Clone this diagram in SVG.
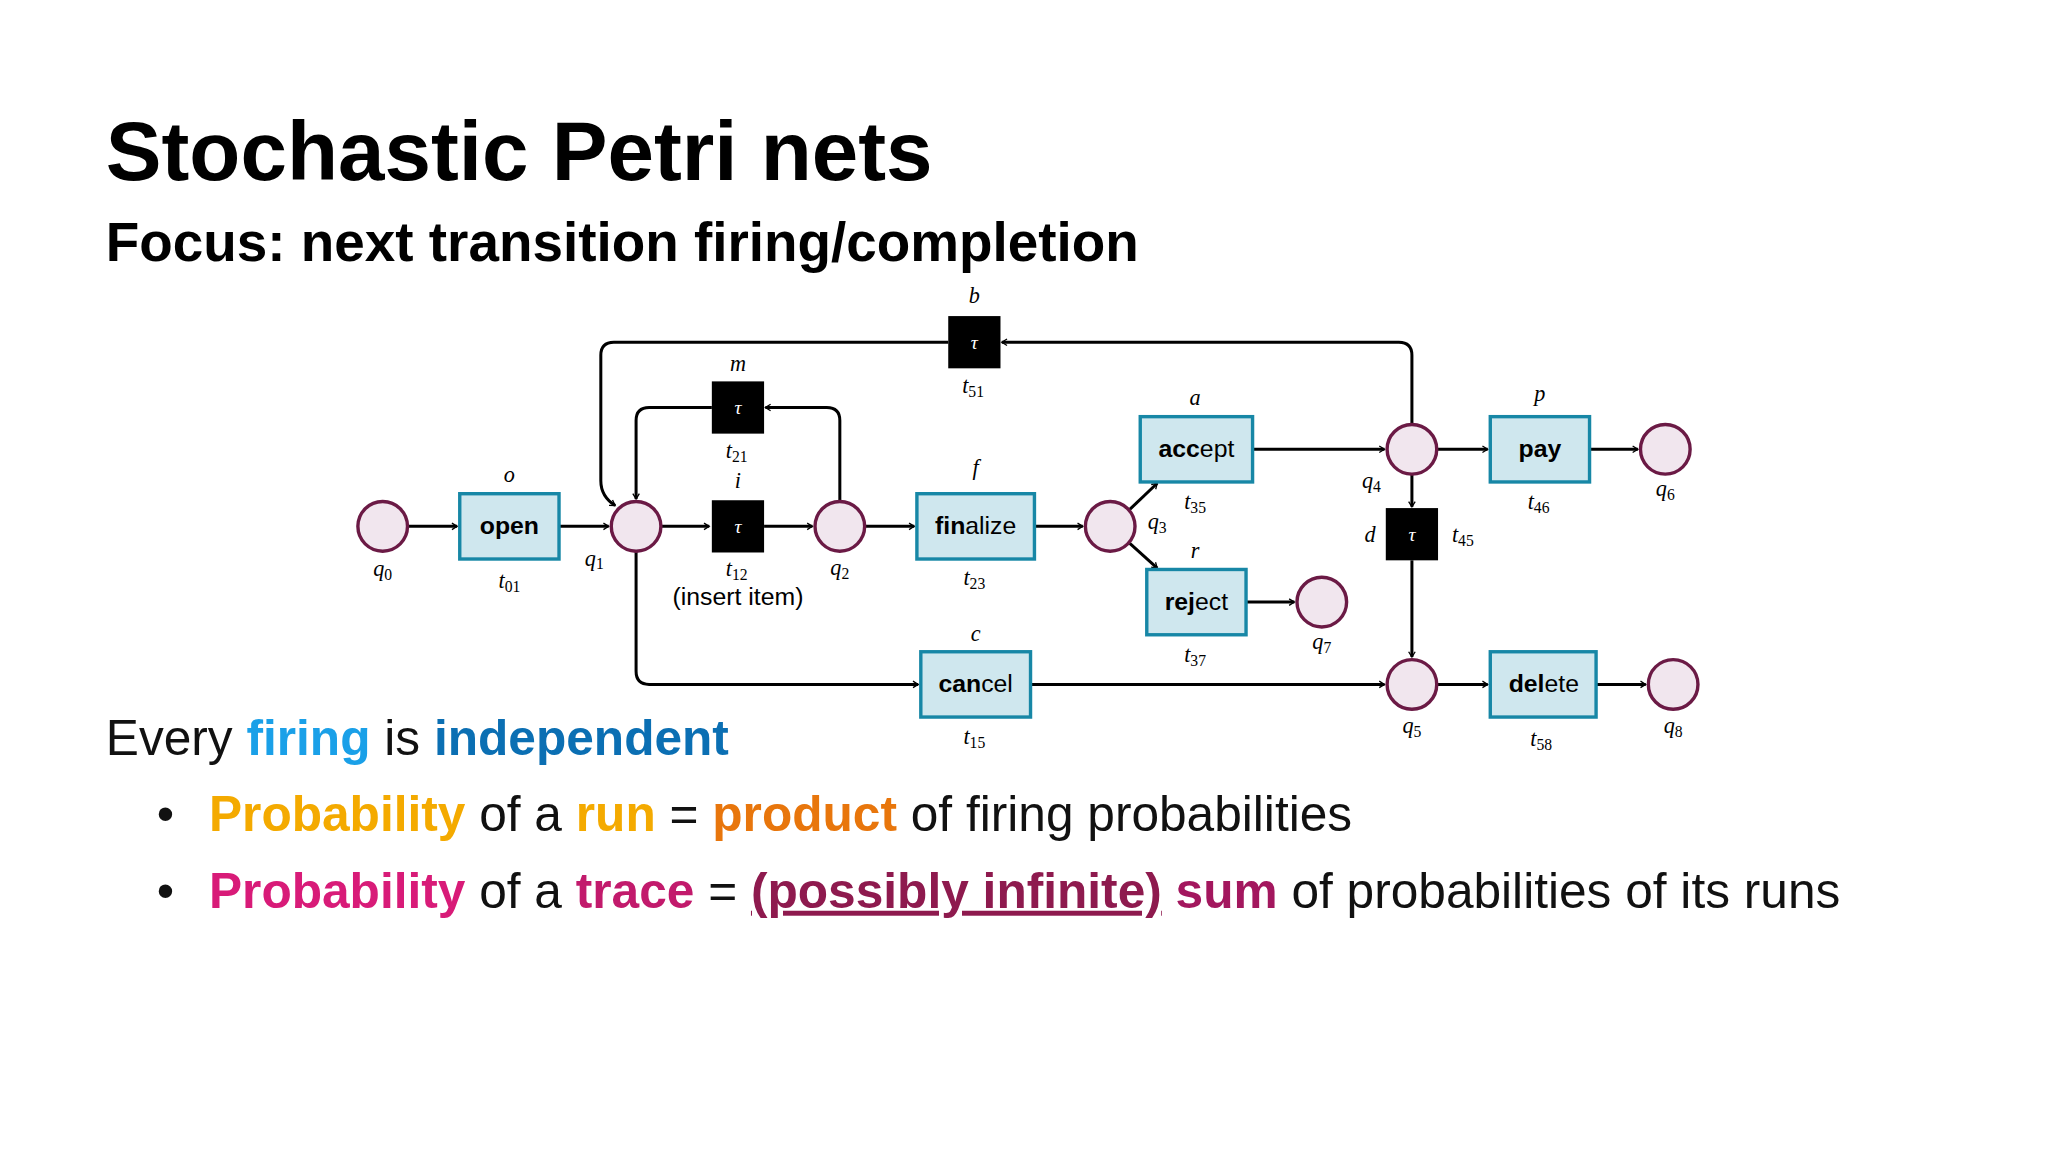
<svg xmlns="http://www.w3.org/2000/svg" width="2048" height="1152" viewBox="0 0 2048 1152">
<style>
.pl{fill:#f1e6ee;stroke:#6b1a45;stroke-width:2.6}
.bx{fill:#cfe7ee;stroke:#1787a6;stroke-width:2.6}
.tau{fill:#000}
.e{fill:none;stroke:#000;stroke-width:2.3;marker-end:url(#ar)}
.lb{font-family:"Liberation Sans",Arial,sans-serif;font-size:19px;text-anchor:middle;fill:#000}
.m{font-family:"Liberation Serif","DejaVu Serif",serif;font-style:italic;font-size:17px;text-anchor:middle;fill:#000}
.tw{font-family:"Liberation Serif",serif;font-style:italic;font-size:15px;text-anchor:middle;fill:#fff}
.b{font-weight:bold}
.body{font-family:"Liberation Sans",Arial,sans-serif;font-size:38px;fill:#111}
</style>
<defs>
<marker id="ar" viewBox="0 0 10 10" refX="9" refY="5" markerWidth="5" markerHeight="5" orient="auto" markerUnits="userSpaceOnUse" style="overflow:visible">
<path d="M1,0 L9,5 L1,10" fill="none" stroke="#000" stroke-width="2"/>
</marker>
</defs>
<rect width="2048" height="1152" fill="#fff"/>
<g transform="scale(1.30612)">
<text x="81" y="138" font-family="Liberation Sans,Arial,sans-serif" font-weight="bold" font-size="64" fill="#000">Stochastic Petri nets</text>
<text x="81" y="200" font-family="Liberation Sans,Arial,sans-serif" font-weight="bold" font-size="42" fill="#000">Focus: next transition firing/completion</text>

<g id="connectors">
<path class="e" d="M312,403 H350"/>
<path class="e" d="M428,403 H466"/>
<path class="e" d="M506,403 H543"/>
<path class="e" d="M585,403 H622"/>
<path class="e" d="M662,403 H700"/>
<path class="e" d="M792,403 H829"/>
<path class="e" d="M865,390 L886,370"/>
<path class="e" d="M865,416 L886,435"/>
<path class="e" d="M959,344 H1060"/>
<path class="e" d="M1100,344 H1139"/>
<path class="e" d="M1217,344 H1254"/>
<path class="e" d="M954,461 H991"/>
<path class="e" d="M1081,363 V388"/>
<path class="e" d="M1081,429 V503"/>
<path class="e" d="M789,524 H1060"/>
<path class="e" d="M1100,524 H1139"/>
<path class="e" d="M1222,524 H1260"/>
<path class="e" d="M643,384 V322 Q643,312 633,312 H586"/>
<path class="e" d="M545,312 H497 Q487,312 487,322 V382"/>
<path class="e" d="M1081,325 V272 Q1081,262 1071,262 H767"/>
<path class="e" d="M726,262 H470 Q460,262 460,272 V368 Q460,380 471,387"/>
<path class="e" d="M487,422 V514 Q487,524 497,524 H703"/>
</g>

<g id="q0"><circle class="pl" cx="293" cy="403" r="19"/><text class="m" x="293" y="441">q<tspan font-size="12" dy="3" font-style="normal">0</tspan></text></g>
<g id="q1"><circle class="pl" cx="487" cy="403" r="19"/><text class="m" x="455" y="433">q<tspan font-size="12" dy="3" font-style="normal">1</tspan></text></g>
<g id="q2"><circle class="pl" cx="643" cy="403" r="19"/><text class="m" x="643" y="440">q<tspan font-size="12" dy="3" font-style="normal">2</tspan></text></g>
<g id="q3"><circle class="pl" cx="850" cy="403" r="19"/><text class="m" x="886" y="405">q<tspan font-size="12" dy="3" font-style="normal">3</tspan></text></g>
<g id="q4"><circle class="pl" cx="1081" cy="344" r="19"/><text class="m" x="1050" y="374">q<tspan font-size="12" dy="3" font-style="normal">4</tspan></text></g>
<g id="q5"><circle class="pl" cx="1081" cy="524" r="19"/><text class="m" x="1081" y="561">q<tspan font-size="12" dy="3" font-style="normal">5</tspan></text></g>
<g id="q6"><circle class="pl" cx="1275" cy="344" r="19"/><text class="m" x="1275" y="380">q<tspan font-size="12" dy="3" font-style="normal">6</tspan></text></g>
<g id="q7"><circle class="pl" cx="1012" cy="461" r="19"/><text class="m" x="1012" y="497">q<tspan font-size="12" dy="3" font-style="normal">7</tspan></text></g>
<g id="q8"><circle class="pl" cx="1281" cy="524" r="19"/><text class="m" x="1281" y="561">q<tspan font-size="12" dy="3" font-style="normal">8</tspan></text></g>

<g id="t01"><rect class="bx" x="352" y="378" width="76" height="50"/><text class="lb b" x="390" y="409">open</text><text class="m" x="390" y="369">o</text><text class="m" x="390" y="450">t<tspan font-size="12" dy="3" font-style="normal">01</tspan></text></g>
<g id="t23"><rect class="bx" x="702" y="378" width="90" height="50"/><text class="lb" x="747" y="409"><tspan class="b">fin</tspan>alize</text><text class="m" x="747" y="364">f</text><text class="m" x="746" y="448">t<tspan font-size="12" dy="3" font-style="normal">23</tspan></text></g>
<g id="t35"><rect class="bx" x="873" y="319" width="86" height="50"/><text class="lb" x="916" y="350"><tspan class="b">acc</tspan>ept</text><text class="m" x="915" y="310">a</text><text class="m" x="915" y="390">t<tspan font-size="12" dy="3" font-style="normal">35</tspan></text></g>
<g id="t37"><rect class="bx" x="878" y="436" width="76" height="50"/><text class="lb" x="916" y="467"><tspan class="b">rej</tspan>ect</text><text class="m" x="915" y="427">r</text><text class="m" x="915" y="507">t<tspan font-size="12" dy="3" font-style="normal">37</tspan></text></g>
<g id="t15"><rect class="bx" x="705" y="499" width="84" height="50"/><text class="lb" x="747" y="530"><tspan class="b">can</tspan>cel</text><text class="m" x="747" y="491">c</text><text class="m" x="746" y="570">t<tspan font-size="12" dy="3" font-style="normal">15</tspan></text></g>
<g id="t46"><rect class="bx" x="1141" y="319" width="76" height="50"/><text class="lb b" x="1179" y="350">pay</text><text class="m" x="1179" y="307">p</text><text class="m" x="1178" y="390">t<tspan font-size="12" dy="3" font-style="normal">46</tspan></text></g>
<g id="t58"><rect class="bx" x="1141" y="499" width="81" height="50"/><text class="lb" x="1182" y="530"><tspan class="b">del</tspan>ete</text><text class="m" x="1180" y="571">t<tspan font-size="12" dy="3" font-style="normal">58</tspan></text></g>
<g id="t51"><rect class="tau" x="726" y="242" width="40" height="40"/><text class="tw" x="746" y="267">τ</text><text class="m" x="746" y="232">b</text><text class="m" x="745" y="301">t<tspan font-size="12" dy="3" font-style="normal">51</tspan></text></g>
<g id="t21"><rect class="tau" x="545" y="292" width="40" height="40"/><text class="tw" x="565" y="317">τ</text><text class="m" x="565" y="284">m</text><text class="m" x="564" y="351">t<tspan font-size="12" dy="3" font-style="normal">21</tspan></text></g>
<g id="t12"><rect class="tau" x="545" y="383" width="40" height="40"/><text class="tw" x="565" y="408">τ</text><text class="m" x="565" y="374">i</text><text class="m" x="564" y="441">t<tspan font-size="12" dy="3" font-style="normal">12</tspan></text><text class="lb" x="565" y="463">(insert item)</text></g>
<g id="t45"><rect class="tau" x="1061" y="389" width="40" height="40"/><text class="tw" x="1081" y="414">τ</text><text class="m" x="1049" y="415">d</text><text class="m" x="1120" y="415">t<tspan font-size="12" dy="3" font-style="normal">45</tspan></text></g>

<text class="body" x="81" y="578">Every <tspan fill="#1aa0e8" font-weight="bold">firing</tspan> is <tspan fill="#0b6fb3" font-weight="bold">independent</tspan></text>
<text class="body" x="120" y="636">•</text>
<text class="body" x="160" y="636"><tspan fill="#f4aa00" font-weight="bold">Probability</tspan> of a <tspan fill="#f4aa00" font-weight="bold">run</tspan> = <tspan fill="#e8760c" font-weight="bold">product</tspan> of firing probabilities</text>
<text class="body" x="120" y="695">•</text>
<text class="body" x="160" y="695"><tspan fill="#d81b78" font-weight="bold">Probability</tspan> of a <tspan fill="#c21a6c" font-weight="bold">trace</tspan> = <tspan fill="#8e1a4e" font-weight="bold" text-decoration="underline">(possibly infinite)</tspan> <tspan fill="#a3175e" font-weight="bold">sum</tspan> of probabilities of its runs</text>
</g>
</svg>
